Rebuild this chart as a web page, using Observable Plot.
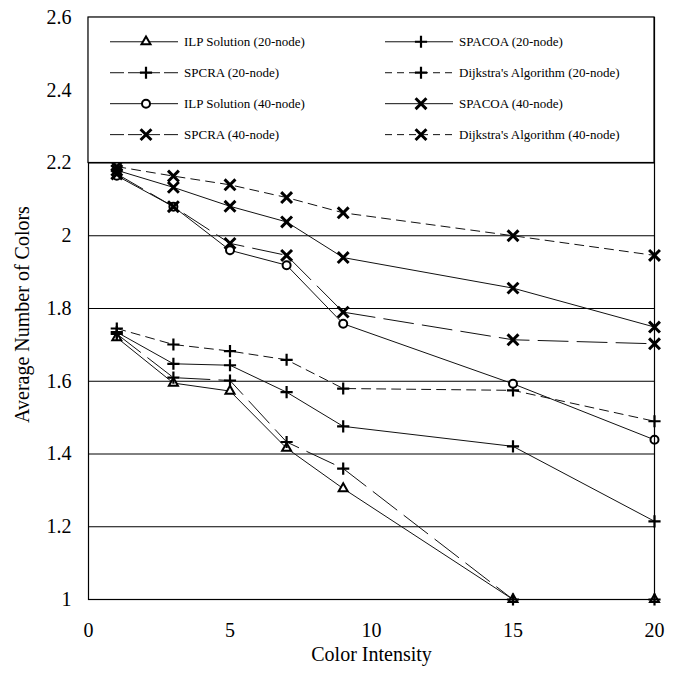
<!DOCTYPE html>
<html>
<head>
<meta charset="utf-8">
<script src="https://cdn.jsdelivr.net/npm/d3@7"></script>
<script src="https://cdn.jsdelivr.net/npm/@observablehq/plot@0.6"></script>
<style>
  html, body { margin: 0; padding: 0; background: #fff; }
  #chart { width: 677px; height: 674px; }
</style>
</head>
<body>
<div id="chart"></div>
<script>
// ---- data ----
const intensity = [1, 3, 5, 7, 9, 15, 20];
const ilp20      = [1.72, 1.595, 1.573, 1.416, 1.305, 1.0, 1.0];
const spacoa20   = [1.735, 1.648, 1.644, 1.570, 1.476, 1.421, 1.215];
const spcra20    = [1.73, 1.61, 1.602, 1.433, 1.36, 1.0, 1.0];
const dijkstra20 = [1.745, 1.701, 1.683, 1.659, 1.58, 1.575, 1.49];
const ilp40      = [2.165, 2.08, 1.96, 1.919, 1.758, 1.593, 1.439];
const spacoa40   = [2.18, 2.133, 2.081, 2.038, 1.94, 1.856, 1.749];
const spcra40    = [2.17, 2.08, 1.979, 1.946, 1.79, 1.714, 1.703];
const dijkstra40 = [2.19, 2.164, 2.14, 2.105, 2.063, 2.0, 1.946];

const seriesNames = [
  "ILP Solution (20-node)", "SPACOA (20-node)",
  "SPCRA (20-node)", "Dijkstra's Algorithm (20-node)",
  "ILP Solution (40-node)", "SPACOA (40-node)",
  "SPCRA (40-node)", "Dijkstra's Algorithm (40-node)"
];
const seriesValues = [ilp20, spacoa20, spcra20, dijkstra20, ilp40, spacoa40, spcra40, dijkstra40];

const xTicks = [0, 5, 10, 15, 20];
const yTicks = [1, 1.2, 1.4, 1.6, 1.8, 2, 2.2, 2.4, 2.6];
const gridValues = [1.2, 1.4, 1.6, 1.8, 2, 2.2];
const xTitle = "Color Intensity";
const yTitle = "Average Number of Colors";

// ---- styles (separate from data) ----
const styles = [
  {symbol: "triangle2", dash: null,    r: 4.3, sw: 2,   fill: "white"},
  {symbol: "plus",      dash: null,    r: 4.0, sw: 2.2, fill: "none"},
  {symbol: "plus",      dash: "30,9",  r: 4.0, sw: 2.2, fill: "none"},
  {symbol: "plus",      dash: "9,6",   r: 4.0, sw: 2.2, fill: "none"},
  {symbol: "circle",    dash: null,    r: 4.0, sw: 2,   fill: "white"},
  {symbol: "times",     dash: null,    r: 5.0, sw: 3,   fill: "none"},
  {symbol: "times",     dash: "30,9",  r: 5.0, sw: 3,   fill: "none"},
  {symbol: "times",     dash: "9,6",   r: 5.0, sw: 3,   fill: "none"}
];

const rows = seriesNames.flatMap((name, i) =>
  intensity.map((x, j) => ({series: name, idx: i, x, y: seriesValues[i][j]})));

const font = "'Liberation Serif', 'Times New Roman', serif";

const lineMarks = seriesNames.map((name, i) =>
  Plot.line(rows.filter(d => d.idx === i), {
    x: "x", y: "y", stroke: "#111", strokeWidth: 1,
    strokeDasharray: styles[i].dash || undefined
  }));
const dotMarks = seriesNames.map((name, i) =>
  Plot.dot(rows.filter(d => d.idx === i), {
    x: "x", y: "y", symbol: () => styles[i].symbol, r: styles[i].r,
    stroke: "#000", strokeWidth: styles[i].sw, fill: styles[i].fill
  }));

const fmt = d => String(+d.toFixed(1));

const chart = Plot.plot({
  width: 677, height: 674,
  marginLeft: 88, marginRight: 23, marginTop: 17, marginBottom: 75,
  style: {fontFamily: font, fontSize: "20px", background: "white", color: "#000"},
  x: {domain: [0, 20]},
  y: {domain: [1, 2.6]},
  marks: [
    Plot.ruleY(gridValues, {stroke: "#000", strokeWidth: 1}),
    Plot.axisY({ticks: yTicks, tickSize: 0, tickPadding: 17, tickFormat: fmt, label: null, fontSize: 20}),
    Plot.axisX({ticks: xTicks, tickSize: 0, tickPadding: 23, tickFormat: fmt, label: null, fontSize: 20}),
    Plot.text([yTitle], {frameAnchor: "left", textAnchor: "middle", text: d => d, rotate: -90, dx: -66, dy: 6, fontSize: 20}),
    Plot.text([xTitle], {frameAnchor: "bottom", text: d => d, dy: 61, fontSize: 20}),
    ...lineMarks,
    ...dotMarks,
    Plot.frame({stroke: "#000", strokeWidth: 1.2})
  ]
});

document.getElementById("chart").appendChild(chart);

// ---- in-plot legend ----
const xScale = chart.scale("x"), yScale = chart.scale("y");
const svg = d3.select(chart);
const lgLeft = xScale.apply(0), lgRight = xScale.apply(20);
const lgTop = yScale.apply(2.6), lgBottom = yScale.apply(2.2);
const g = svg.append("g").attr("class", "legend");
g.append("rect").attr("x", lgLeft).attr("y", lgTop)
  .attr("width", lgRight - lgLeft).attr("height", lgBottom - lgTop)
  .attr("fill", "white").attr("stroke", "#000").attr("stroke-width", 1.2);

const symbolMap = {
  triangle2: d3.symbolTriangle2, plus: d3.symbolPlus,
  circle: d3.symbolCircle, times: d3.symbolTimes
};
const rowH = (lgBottom - lgTop) / 4.7;
seriesNames.forEach((name, i) => {
  const col = i % 2, row = Math.floor(i / 2);
  const cy = lgTop + rowH * (row + 0.8);
  const x1 = col === 0 ? lgLeft + 22 : lgLeft + 297;
  const x2 = x1 + 68;
  const mx = x1 + 36;
  const st = styles[i];
  g.append("line").attr("x1", x1).attr("x2", x2).attr("y1", cy).attr("y2", cy)
    .attr("stroke", "#111").attr("stroke-width", 1)
    .attr("stroke-dasharray", st.dash ? (st.dash === "9,6" ? "7,5" : "14,4") : null);
  g.append("path")
    .attr("d", d3.symbol(symbolMap[st.symbol], st.r * st.r * Math.PI)())
    .attr("transform", `translate(${mx},${cy})`)
    .attr("fill", st.fill).attr("stroke", "#000").attr("stroke-width", st.sw);
  g.append("text").attr("x", x2 + 6).attr("y", cy).attr("dy", "0.35em")
    .attr("text-anchor", "start")
    .attr("font-family", font).attr("font-size", 13).attr("fill", "#000")
    .text(name);
});
</script>
</body>
</html>
